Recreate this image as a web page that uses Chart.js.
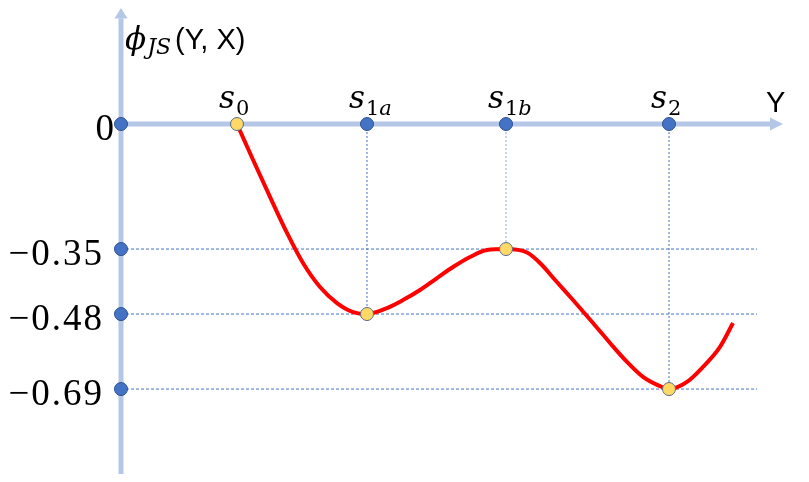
<!DOCTYPE html>
<html>
<head>
<meta charset="utf-8">
<script src="https://cdn.jsdelivr.net/npm/chart.js@4"></script>
<style>
  html, body { margin: 0; padding: 0; background: #ffffff; }
  #wrap { width: 809px; height: 482px; }
</style>
</head>
<body>
<div id="wrap"><canvas id="c" width="809" height="482"></canvas></div>
<script>
// ---------------- data ----------------
const yTickValues = [0, -0.35, -0.48, -0.69];
const yTickLabels = ['0', '\u22120.35', '\u22120.48', '\u22120.69'];

const pointSubscripts = [['0'], ['1', 'a'], ['1', 'b'], ['2']];   // s_0, s_1a, s_1b, s_2
const pointX = [1.16, 2.46, 3.85, 5.48];
const pointY = [0, -0.48, -0.35, -0.69];

const curveX = [1.16, 1.32, 1.49, 1.66, 1.82, 1.99, 2.16, 2.32, 2.46, 2.66, 2.82, 2.99, 3.16, 3.32, 3.49, 3.66, 3.85,
                4.06, 4.19, 4.35, 4.52, 4.72, 4.89, 5.06, 5.22, 5.39, 5.48, 5.66, 5.82, 5.99, 6.12];
const curveY = [0, -0.10, -0.204, -0.305, -0.378, -0.426, -0.458, -0.476, -0.48, -0.468, -0.452, -0.432, -0.408, -0.386, -0.366, -0.352, -0.35,
                -0.357, -0.378, -0.414, -0.452, -0.505, -0.561, -0.614, -0.656, -0.682, -0.69, -0.670, -0.628, -0.572, -0.505];

const guideEndX = 6.36;
const xAxisName = 'Y';
const yAxisName = { symbol: '\u03D5', sub: 'JS', rest: '(Y, X)' };

// -------- schematic (non-proportional) vertical scale --------
// the drawing places its tick values at schematic heights, not to scale
const warpValues = [0, -0.35, -0.48, -0.69];
const warpShown  = [0, -0.3255, -0.4947, -0.69];
function warp(v) {
  const n = warpValues.length;
  if (v >= warpValues[0]) return warpShown[0] + (v - warpValues[0]);
  if (v <= warpValues[n - 1]) return warpShown[n - 1] + (v - warpValues[n - 1]);
  for (let i = 0; i < n - 1; i++) {
    if (v <= warpValues[i] && v >= warpValues[i + 1]) {
      const t = (v - warpValues[i]) / (warpValues[i + 1] - warpValues[i]);
      return warpShown[i] + t * (warpShown[i + 1] - warpShown[i]);
    }
  }
  return v;
}
function unwarp(d) {
  const n = warpShown.length;
  if (d >= warpShown[0]) return warpValues[0] + (d - warpShown[0]);
  if (d <= warpShown[n - 1]) return warpValues[n - 1] + (d - warpShown[n - 1]);
  for (let i = 0; i < n - 1; i++) {
    if (d <= warpShown[i] && d >= warpShown[i + 1]) {
      const t = (d - warpShown[i]) / (warpShown[i + 1] - warpShown[i]);
      return warpValues[i] + t * (warpValues[i + 1] - warpValues[i]);
    }
  }
  return d;
}
const BaseLinear = Chart.LinearScale || Chart.registry.getScale('linear');
class SchematicScale extends BaseLinear {
  getPixelForValue(v) { return super.getPixelForValue(warp(v)); }
  getValueForPixel(p) { return unwarp(super.getValueForPixel(p)); }
}
SchematicScale.id = 'schematic';
SchematicScale.defaults = BaseLinear.defaults;
Chart.register(SchematicScale);

// ---------------- styles ----------------
const AXIS_COLOR = '#B4C7E7';
const DOT_BLUE = '#4472C4';
const DOT_BLUE_EDGE = '#2F528F';
const DOT_YELLOW = '#FFD966';
const DOT_YELLOW_EDGE = '#5A6B8C';
const GUIDE = '#4472C4';

// ---------------- datasets ----------------
const datasets = [];

// curve
datasets.push({
  data: curveX.map((x, i) => ({ x, y: curveY[i] })),
  borderColor: '#FF0000',
  borderWidth: 4,
  pointRadius: 0,
  cubicInterpolationMode: 'monotone',
  fill: false,
  order: 2
});

// horizontal guides
yTickValues.slice(1).forEach(v => {
  datasets.push({
    data: [{ x: 0, y: v }, { x: guideEndX, y: v }],
    borderColor: GUIDE, borderWidth: 1, borderDash: [3, 2],
    pointRadius: 0, fill: false, order: 3
  });
});
// vertical guides
pointX.forEach((x, i) => {
  if (pointY[i] === 0) return;
  datasets.push({
    data: [{ x, y: 0 }, { x, y: pointY[i] }],
    borderColor: i === 2 ? '#8FAADC' : GUIDE, borderWidth: 1, borderDash: [2, 2],
    pointRadius: 0, fill: false, order: 3
  });
});

// blue dots on the axes
const blueDots = yTickValues.map(v => ({ x: 0, y: v }))
  .concat(pointX.filter((x, i) => pointY[i] !== 0).map(x => ({ x, y: 0 })));
datasets.push({
  data: blueDots, showLine: false,
  pointRadius: 6.5, pointBackgroundColor: DOT_BLUE, pointBorderColor: DOT_BLUE_EDGE, pointBorderWidth: 1,
  order: 1
});
// yellow dots at stationary points
datasets.push({
  data: pointX.map((x, i) => ({ x, y: pointY[i] })), showLine: false,
  pointRadius: 6.5, pointBackgroundColor: DOT_YELLOW, pointBorderColor: DOT_YELLOW_EDGE, pointBorderWidth: 1,
  order: 0
});

// ---------------- axes & text plugin ----------------
function drawRich(ctx, x, parts) {
  let cx = x;
  parts.forEach(p => {
    ctx.font = p.font;
    ctx.fillText(p.text, cx, p.y);
    cx += ctx.measureText(p.text).width + (p.gap || 0);
  });
  return cx;
}

const diagramPlugin = {
  id: 'diagram',
  beforeDatasetsDraw(chart) {
    const ctx = chart.ctx, xs = chart.scales.x, ys = chart.scales.y;
    const x0 = xs.getPixelForValue(0), y0 = ys.getPixelForValue(0);
    const xTip = xs.getPixelForValue(6.62), xBase = xs.getPixelForValue(6.49);
    const yTip = ys.getPixelForValue(0.302), yBase = ys.getPixelForValue(0.275);
    const yBottom = ys.getPixelForValue(-0.911);
    ctx.save();
    ctx.strokeStyle = AXIS_COLOR; ctx.fillStyle = AXIS_COLOR; ctx.lineWidth = 5; ctx.lineCap = 'butt';
    // x axis
    ctx.beginPath(); ctx.moveTo(x0 - 2.5, y0); ctx.lineTo(xBase, y0); ctx.stroke();
    ctx.beginPath(); ctx.moveTo(xTip, y0); ctx.lineTo(xBase, y0 - 6.5); ctx.lineTo(xBase, y0 + 6.5); ctx.closePath(); ctx.fill();
    // y axis
    ctx.beginPath(); ctx.moveTo(x0, yBottom); ctx.lineTo(x0, yBase); ctx.stroke();
    ctx.beginPath(); ctx.moveTo(x0, yTip); ctx.lineTo(x0 - 6.5, yBase); ctx.lineTo(x0 + 6.5, yBase); ctx.closePath(); ctx.fill();
    ctx.restore();
  },
  afterDatasetsDraw(chart) {
    const ctx = chart.ctx, xs = chart.scales.x, ys = chart.scales.y;
    const x0 = xs.getPixelForValue(0), y0 = ys.getPixelForValue(0);
    ctx.save();
    ctx.fillStyle = '#000000';
    ctx.textBaseline = 'alphabetic';

    // y tick labels
    ctx.font = '37px "Liberation Serif", serif';
    ctx.textAlign = 'right';
    if ('letterSpacing' in ctx) ctx.letterSpacing = '2px';
    yTickValues.forEach((v, i) => {
      const py = ys.getPixelForValue(v);
      const rx = v === 0 ? x0 - 5 : x0 - 17;
      ctx.fillText(yTickLabels[i], rx, py + 16);
    });
    if ('letterSpacing' in ctx) ctx.letterSpacing = '0px';

    // stationary point labels
    ctx.textAlign = 'left';
    pointX.forEach((x, i) => {
      const px = xs.getPixelForValue(x);
      const parts = [{ text: 's', font: 'italic 31px "DejaVu Serif", serif', y: y0 - 16, gap: 1 }];
      pointSubscripts[i].forEach(t => {
        const isLetter = /[a-z]/i.test(t);
        parts.push({ text: t, font: (isLetter ? 'italic ' : '') + '21px "DejaVu Serif", serif', y: y0 - 9 });
      });
      drawRich(ctx, px - 18, parts);
    });

    // x axis name
    ctx.font = '29px "Liberation Sans", Arial, sans-serif';
    ctx.fillText(xAxisName, xs.getPixelForValue(6.45), y0 - 12);

    // y axis name
    drawRich(ctx, x0 + 4, [
      { text: yAxisName.symbol, font: 'italic 31px "DejaVu Serif", serif', y: 49, gap: 1 },
      { text: yAxisName.sub, font: 'italic 22px "DejaVu Serif", serif', y: 54, gap: 4 },
      { text: yAxisName.rest, font: '29px "Liberation Sans", Arial, sans-serif', y: 49 }
    ]);
    ctx.restore();
  }
};

new Chart(document.getElementById('c'), {
  type: 'line',
  data: { datasets },
  options: {
    responsive: false,
    animation: false,
    devicePixelRatio: 1,
    events: [],
    layout: { padding: 0, autoPadding: false },
    plugins: { legend: { display: false }, tooltip: { enabled: false } },
    scales: {
      x: { type: 'linear', min: -1.21, max: 6.88, display: false },
      y: { type: 'schematic', min: -0.932, max: 0.3229, display: false }
    }
  },
  plugins: [diagramPlugin]
});
</script>
</body>
</html>
